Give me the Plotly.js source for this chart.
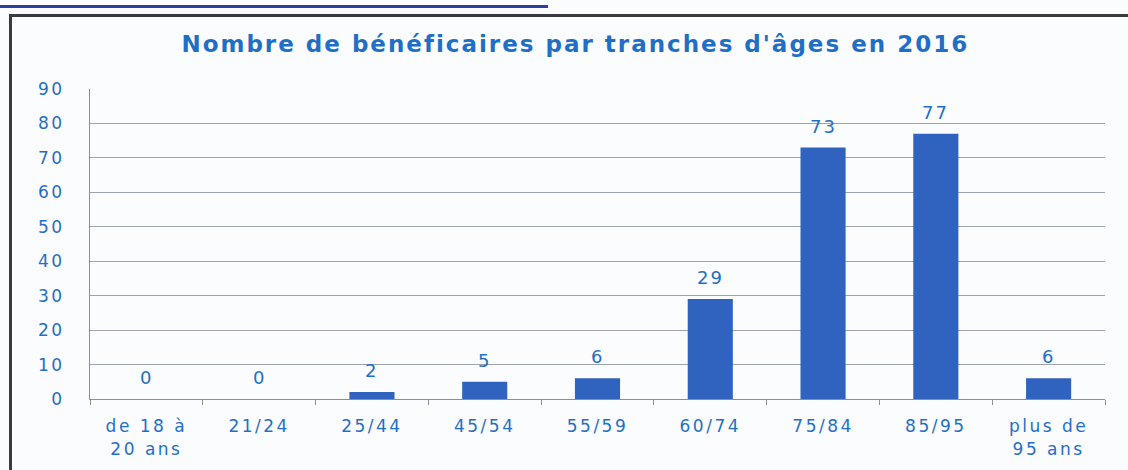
<!DOCTYPE html>
<html>
<head>
<meta charset="utf-8">
<script src="https://cdn.plot.ly/plotly-3.0.1.min.js"></script>
<style>
  html, body { margin: 0; padding: 0; background: #fbfcfe; }
  #wrap { position: relative; width: 1128px; height: 470px; overflow: hidden; background: #fbfcfe; }
  #frame { position: absolute; left: 9px; top: 14px; width: 1200px; height: 600px; border: 3px solid #3a3a40; box-sizing: border-box; }
  #topline { position: absolute; left: 0; top: 5px; width: 548px; height: 3px; background: #2a3f9e; }
  #chart { position: absolute; left: 0; top: 0; width: 1128px; height: 470px; }
  #chart .gtitle { letter-spacing: 2px; }
  #chart .xtick text, #chart .ytick text { letter-spacing: 2.5px; }
  #chart .annotation-text { letter-spacing: 2px; }
</style>
</head>
<body>
<div id="wrap">
  <div id="topline"></div>
  <div id="frame"></div>
  <div id="chart"></div>
</div>
<script>
const categories = ["de 18 à<br>20 ans", "21/24", "25/44", "45/54", "55/59", "60/74", "75/84", "85/95", "plus de<br>95 ans"];
const beneficiaires = [0, 0, 2, 5, 6, 29, 73, 77, 6];
const yTicks = [0, 10, 20, 30, 40, 50, 60, 70, 80, 90];

const textBlue = "#1f6fc6";

const trace = {
  type: "bar",
  x: categories,
  y: beneficiaires,
  marker: { color: "#2f63bf", line: { width: 0 } },
  hoverinfo: "skip"
};

const labels = categories.map((c, i) => ({
  x: c,
  y: beneficiaires[i],
  xref: "x",
  yref: "y",
  text: String(beneficiaires[i]),
  showarrow: false,
  yanchor: "bottom",
  yshift: 9,
  font: { family: "DejaVu Sans", size: 18, color: textBlue }
}));

const layout = {
  width: 1128,
  height: 470,
  margin: { l: 90, r: 23, t: 89, b: 71 },
  paper_bgcolor: "rgba(0,0,0,0)",
  plot_bgcolor: "rgba(0,0,0,0)",
  bargap: 0.6,
  showlegend: false,
  annotations: labels,
  title: {
    text: "<b>Nombre de bénéficaires par tranches d'âges en 2016</b>",
    font: { family: "DejaVu Sans", size: 23, color: textBlue },
    x: 0.51, xanchor: "center",
    y: 0.906, yanchor: "middle"
  },
  xaxis: {
    type: "category",
    tickfont: { family: "DejaVu Sans", size: 17, color: textBlue },
    ticks: "outside",
    tickson: "boundaries",
    ticklen: 5,
    tickcolor: "#8a8f9c",
    ticklabelstandoff: 12,
    showline: true,
    linecolor: "#8a8f9c",
    linewidth: 1,
    showgrid: false,
    fixedrange: true
  },
  yaxis: {
    range: [0, 90],
    tickvals: yTicks,
    tickfont: { family: "DejaVu Sans", size: 17, color: textBlue },
    ticks: "",
    ticklabelstandoff: 21,
    showline: true,
    linecolor: "#8a8f9c",
    linewidth: 1,
    showgrid: true,
    gridcolor: "#9ea3b3",
    gridwidth: 1,
    zeroline: false,
    fixedrange: true
  }
};

Plotly.newPlot("chart", [trace], layout, { staticPlot: true, displayModeBar: false });
</script>
</body>
</html>
